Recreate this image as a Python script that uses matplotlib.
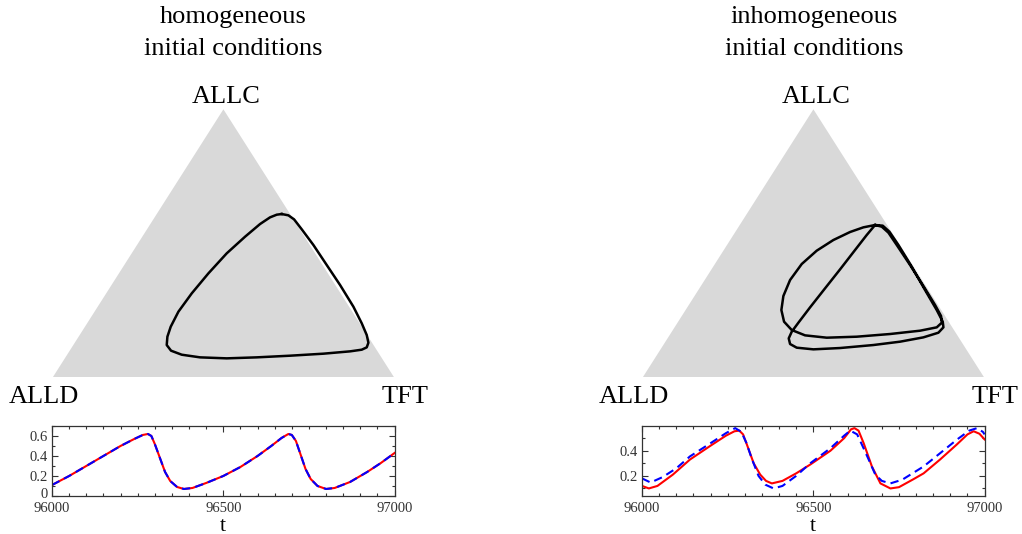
import numpy as np
import matplotlib
matplotlib.use('Agg')
import matplotlib.pyplot as plt
import matplotlib.transforms as mtransforms
from matplotlib.ticker import MultipleLocator

plt.rcParams['font.family'] = ['Liberation Serif', 'DejaVu Serif']

# --- data ---
# simplex trajectories as (ALLC share, TFT share); ALLD = 1 - ALLC - TFT
homog_allc = [0.6093, 0.6044, 0.5894, 0.5521, 0.4937, 0.4190, 0.3444, 0.2636, 0.2014, 0.1578,
              0.1292, 0.1118, 0.1031, 0.0969, 0.0882, 0.0807, 0.0745, 0.0708, 0.0745, 0.0844,
              0.0994, 0.1205, 0.1516, 0.1889, 0.2449, 0.3133, 0.3879, 0.4626, 0.5247, 0.5720,
              0.5969, 0.6068, 0.6093]
homog_tft = [0.3662, 0.3882, 0.4123, 0.4535, 0.5168, 0.5932, 0.6696, 0.7490, 0.8046, 0.8410,
             0.8602, 0.8640, 0.8537, 0.8226, 0.7488, 0.6549, 0.5603, 0.4743, 0.3943, 0.3357,
             0.2969, 0.2737, 0.2601, 0.2512, 0.2457, 0.2506, 0.2621, 0.2784, 0.3011, 0.3214,
             0.3382, 0.3528, 0.3662]

# inhomogeneous run: two consecutive turns of the cycle
inhom_allc = [0.5683, 0.5596, 0.5422, 0.5123, 0.4725, 0.4228, 0.3631, 0.3034, 0.2511, 0.2076,
              0.1765, 0.1566, 0.1479, 0.1516, 0.1616, 0.1740, 0.1865, 0.2038, 0.2287, 0.2698,
              0.3407, 0.4190, 0.4937, 0.5397, 0.5621,
              0.5683, 0.5310, 0.4750, 0.4029, 0.3320, 0.2611, 0.2038, 0.1703, 0.1454, 0.1243,
              0.1106, 0.1044, 0.1093, 0.1205, 0.1330, 0.1491, 0.1665, 0.1865, 0.2076, 0.2511,
              0.3257, 0.4128, 0.4937, 0.5434, 0.5658, 0.5683]
inhom_tft = [0.3965, 0.3666, 0.3363, 0.3023, 0.2734, 0.2544, 0.2501, 0.2603, 0.2806, 0.3102,
             0.3483, 0.3972, 0.4651, 0.5511, 0.6438, 0.7255, 0.7681, 0.7741, 0.7596, 0.7215,
             0.6519, 0.5737, 0.4973, 0.4499, 0.4192,
             0.3965, 0.3907, 0.3845, 0.3767, 0.3681, 0.3597, 0.3541, 0.3514, 0.3550, 0.3695,
             0.3958, 0.4477, 0.5234, 0.6154, 0.6874, 0.7476, 0.7829, 0.7876, 0.7751, 0.7357,
             0.6642, 0.5817, 0.5022, 0.4509, 0.4202, 0.3965]

# ALLC share vs time
t_hom = [96000, 96050, 96100, 96150, 96200, 96240, 96265, 96280, 96290, 96300, 96315, 96330,
         96345, 96365, 96385, 96410, 96450, 96500, 96550, 96600, 96640, 96670, 96690, 96700,
         96712, 96725, 96740, 96755, 96775, 96800, 96825, 96870, 96920, 96960, 97000]
x_hom = [0.11, 0.20, 0.30, 0.40, 0.50, 0.57, 0.61, 0.62, 0.60, 0.52, 0.38, 0.24,
         0.15, 0.09, 0.07, 0.08, 0.13, 0.20, 0.29, 0.40, 0.50, 0.58, 0.62, 0.61,
         0.55, 0.42, 0.27, 0.17, 0.10, 0.07, 0.08, 0.14, 0.24, 0.33, 0.43]

t_red = [96000, 96020, 96045, 96090, 96140, 96200, 96245, 96270, 96284, 96295, 96306, 96326,
         96345, 96362, 96379, 96410, 96450, 96491, 96550, 96590, 96610, 96620, 96632, 96647,
         96671, 96696, 96725, 96750, 96790, 96822, 96870, 96919, 96950, 96968, 96985, 97000]
x_red = [0.12, 0.10, 0.12, 0.21, 0.33, 0.44, 0.52, 0.555, 0.56, 0.53, 0.45, 0.30,
         0.21, 0.16, 0.14, 0.16, 0.22, 0.29, 0.40, 0.50, 0.57, 0.58, 0.56, 0.46,
         0.275, 0.14, 0.10, 0.11, 0.17, 0.22, 0.33, 0.45, 0.53, 0.555, 0.535, 0.49]

t_blue = [96000, 96025, 96060, 96100, 96140, 96200, 96245, 96272, 96290, 96305, 96320, 96340,
          96360, 96384, 96410, 96450, 96491, 96550, 96590, 96608, 96628, 96645, 96660, 96681,
          96700, 96725, 96760, 96822, 96870, 96919, 96955, 96978, 96995, 97000]
x_blue = [0.18, 0.147, 0.19, 0.26, 0.355, 0.46, 0.54, 0.58, 0.55, 0.46, 0.34, 0.20,
          0.13, 0.10, 0.12, 0.20, 0.30, 0.42, 0.52, 0.56, 0.53, 0.43, 0.34, 0.21,
          0.16, 0.14, 0.17, 0.275, 0.38, 0.488, 0.56, 0.58, 0.55, 0.53]


def to_xy(allc, tft):
    # ternary -> position in a triangle with corners ALLD (0,0), TFT (1,0), ALLC (0.5,1)
    allc = np.asarray(allc)
    tft = np.asarray(tft)
    return tft + allc / 2.0, allc


fig = plt.figure(figsize=(10.22, 5.34), dpi=100)

panels = [
    (0.0516, 0.2279, 'homogeneous', homog_allc, homog_tft, t_hom, x_hom, t_hom, x_hom,
     (0, 0.7), [0, 0.2, 0.4, 0.6], ['0', '0.2', '0.4', '0.6']),
    (0.6289, 0.7965, 'inhomogeneous', inhom_allc, inhom_tft, t_red, x_red, t_blue, x_blue,
     (0.04, 0.597), [0.2, 0.4], ['0.2', '0.4']),
]

for left, title_x, title, allc, tft, tr, xr, tb, xb, ylim, yt, ytl in panels:
    # simplex
    ax = fig.add_axes([left, 0.2934, 0.334, 0.5019])
    ax.fill([0, 1, 0.5], [0, 0, 1], color='#d9d9d9', lw=0)
    px, py = to_xy(allc, tft)
    ax.plot(px, py, color='black', lw=1.8, solid_joinstyle='round')
    ax.set_xlim(0, 1)
    ax.set_ylim(0, 1)
    ax.axis('off')
    ax.text(0.508, 1.025, 'ALLC', ha='center', va='baseline', fontsize=19, clip_on=False)
    ax.text(-0.027, -0.096, 'ALLD', ha='center', va='baseline', fontsize=19, clip_on=False)
    ax.text(1.032, -0.096, 'TFT', ha='center', va='baseline', fontsize=19, clip_on=False)

    fig.text(title_x, 0.9575, title, ha='center', va='baseline', fontsize=19)
    fig.text(title_x, 0.897, 'initial conditions', ha='center', va='baseline', fontsize=19)

    # time series
    bx = fig.add_axes([left - 0.0007, 0.0712, 0.3352, 0.1311])
    bx.plot(tr, xr, color='red', lw=1.5)
    bx.plot(tb, xb, color='blue', lw=1.5, ls=(0, (4, 2.5)))
    bx.set_xlim(96000, 97000)
    bx.set_ylim(*ylim)
    bx.set_xticks([96000, 96500, 97000])
    bx.set_xticklabels(['96000', '96500', '97000'])
    bx.set_yticks(yt)
    bx.set_yticklabels(ytl)
    bx.xaxis.set_minor_locator(MultipleLocator(50))
    bx.yaxis.set_minor_locator(MultipleLocator(0.1))
    bx.tick_params(which='both', direction='in', top=True, right=True, labelsize=10.5,
                   colors='#333333')
    bx.tick_params(axis='x', pad=4.5)
    bx.tick_params(axis='y', pad=3)
    bx.tick_params(which='major', length=4, width=0.8)
    bx.tick_params(which='minor', length=2.5, width=0.8)
    for s in bx.spines.values():
        s.set_linewidth(0.9)
        s.set_color('#333333')
    bx.set_xlabel('t', fontsize=16, labelpad=1)
    # the "0" label sits right on the bottom edge; nudge it up a little
    lab0 = bx.get_yticklabels()[0]
    if lab0.get_text() == '0':
        lab0.set_transform(lab0.get_transform() +
                           mtransforms.ScaledTranslation(0, 2.5 / 72, fig.dpi_scale_trans))

fig.savefig('out.png', dpi=100)
